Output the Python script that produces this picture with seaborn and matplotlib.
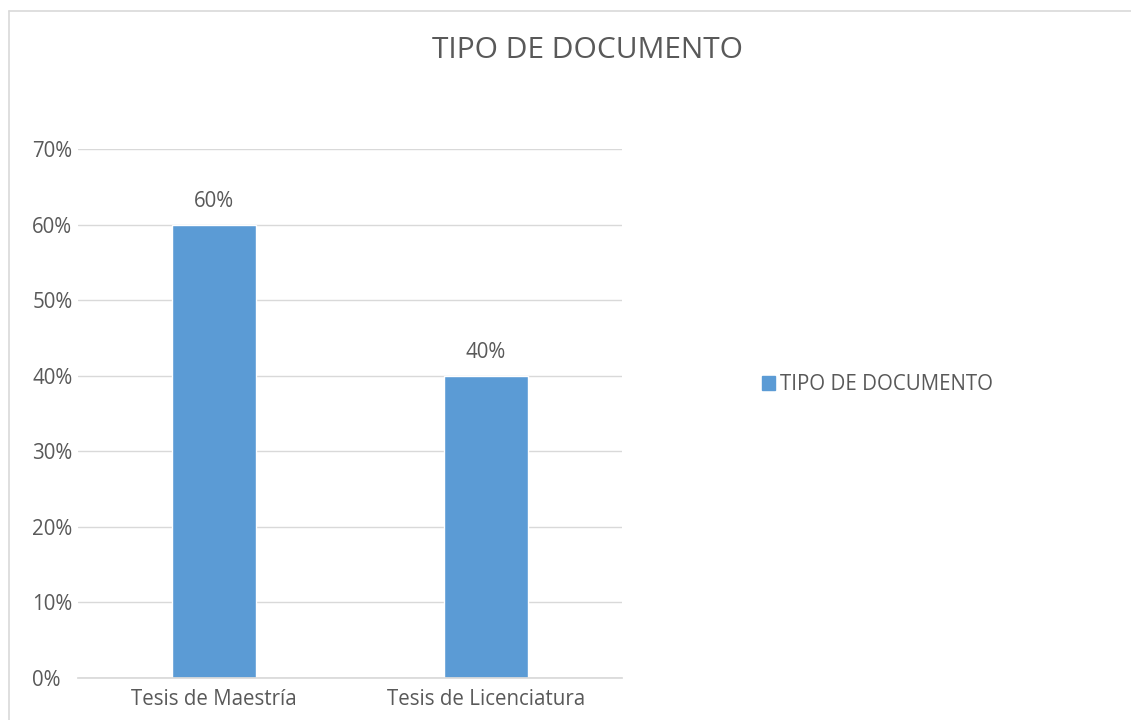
import matplotlib
matplotlib.use("Agg")
import matplotlib.pyplot as plt
import seaborn as sns
import pandas as pd
from matplotlib.patches import Patch
from matplotlib.lines import Line2D
from matplotlib.ticker import FuncFormatter, MultipleLocator

categories = ["Tesis de Maestría", "Tesis de Licenciatura"]
values = [0.60, 0.40]
series_name = "TIPO DE DOCUMENTO"

sns.set_theme(style="white")
plt.rcParams['font.family'] = ['Open Sans', 'DejaVu Sans']

TXT = "#595959"
BAR = "#5B9BD5"
GRID = "#D9D9D9"
FS = 14.8

fig = plt.figure(figsize=(11.31, 7.2), dpi=100)
ax = fig.add_axes([78/1131, 42/720, 544/1131, (720-149-42)/720])

df = pd.DataFrame({"cat": categories, "val": values})
sns.barplot(data=df, x="cat", y="val", color=BAR, width=0.31, ax=ax, saturation=1)

ax.set_ylim(0, 0.70)
ax.yaxis.set_major_locator(MultipleLocator(0.10))
ax.yaxis.set_major_formatter(FuncFormatter(lambda v, p: f"{round(v*100)}%"))
ax.grid(axis="y", color=GRID, linewidth=1)
ax.set_axisbelow(True)
for s in ["top", "right", "left"]:
    ax.spines[s].set_visible(False)
ax.spines["bottom"].set_color(GRID)
ax.set_xlabel("")
ax.set_ylabel("")
ax.tick_params(axis="x", length=0, pad=8, labelsize=FS, labelcolor=TXT)
ax.tick_params(axis="y", length=0, pad=33, labelsize=FS, labelcolor=TXT)
for lab in ax.get_yticklabels():
    lab.set_horizontalalignment("left")

for c in ax.containers:
    ax.bar_label(c, labels=[f"{round(v*100)}%" for v in values], padding=9,
                 fontsize=FS, color=TXT)

fig.text(588/1131, 1 - 50/720, "TIPO DE DOCUMENTO", ha="center", va="center",
         fontsize=21.5, color=TXT)

handles = [Patch(facecolor=BAR, edgecolor=BAR, label=series_name)]
fig.legend(handles=handles, loc="center left", bbox_to_anchor=(743/1131, 1 - 385/720),
           frameon=False, fontsize=FS, labelcolor=TXT, handlelength=0.65,
           handleheight=0.65, handletextpad=0.25)

# chart border
fig.add_artist(Line2D([9/1131, 9/1131], [0, 1 - 11/720], color=GRID, lw=1.2,
                      transform=fig.transFigure))
fig.add_artist(Line2D([9/1131, 1], [1 - 11/720, 1 - 11/720], color=GRID, lw=1.2,
                      transform=fig.transFigure))

fig.savefig("out.png", dpi=100)
